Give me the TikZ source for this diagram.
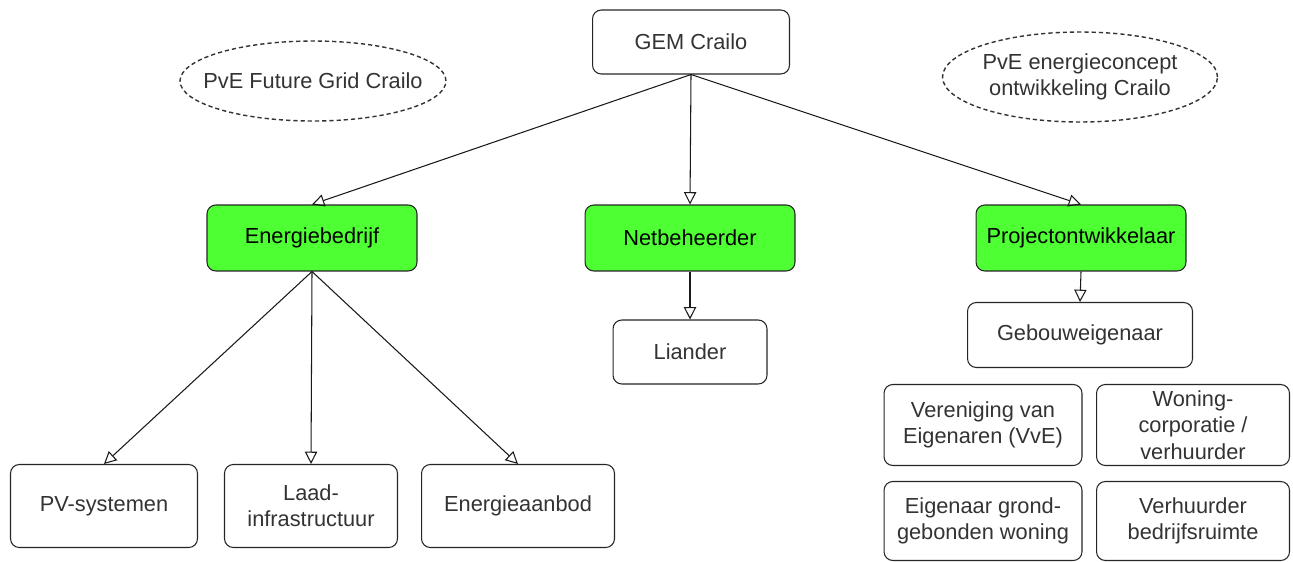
\documentclass[tikz,border=0pt]{standalone}
\usepackage{fontspec}
\setmainfont{Liberation Sans}
\usepackage{tikz}
\usetikzlibrary{arrows.meta,shapes.geometric,positioning}

\definecolor{boxgreen}{RGB}{77,255,51}
\definecolor{textgray}{RGB}{51,51,51}

\begin{document}
\begin{tikzpicture}[
        x=0.02cm, y=-0.02cm,
        every node/.style={font=\fontsize{12.4}{15}\selectfont, text=textgray, align=center},
        box/.style={draw=black!85, line width=0.6pt, rounded corners=5pt, fill=white, inner sep=2pt},
        role/.style={box, fill=boxgreen, text=black},
        note/.style={draw=black!80, line width=0.8pt, dash pattern=on 2.4pt off 1.7pt},
        link/.style={line width=0.6pt, draw=black!90, -{Triangle[open, length=7pt, width=7pt]}}
    ]
    \useasboundingbox (0,0) rectangle (1293,561);

    % top
    \node[box, minimum width=3.94cm, minimum height=1.28cm] (gem) at (691,42) {GEM Crailo};
    \node (grid) at (313,81) {PvE Future Grid Crailo};
    \draw[note] (grid.center) ellipse [x radius=2.66cm, y radius=0.8cm];
    \node (concept) at (1080,77) {PvE energieconcept\\ontwikkeling Crailo};
    \draw[note] (concept.center) ellipse [x radius=2.75cm, y radius=0.9cm];

    % roles
    \node[role, minimum width=4.2cm, minimum height=1.32cm] (energie) at (312,238) {Energiebedrijf};
    \node[role, minimum width=4.2cm, minimum height=1.32cm] (net) at (690,238) {Netbeheerder};
    \node[role, minimum width=4.2cm, minimum height=1.32cm] (project) at (1081,238) {Projectontwikkelaar};

    % level below
    \node[box, minimum width=3.74cm, minimum height=1.66cm] (pv) at (104,506) {PV-systemen};
    \node[box, minimum width=3.46cm, minimum height=1.66cm] (laad) at (311,506) {Laad-\\infrastructuur};
    \node[box, minimum width=3.86cm, minimum height=1.66cm] (aanbod) at (518,506) {Energieaanbod};
    \node[box, minimum width=3.08cm, minimum height=1.28cm] (liander) at (690,352) {Liander};
    \node[box, minimum width=4.5cm, minimum height=1.3cm] (gebouw) at (1080,335) {Gebouweigenaar};
    \node[box, minimum width=3.96cm, minimum height=1.62cm] (vve) at (983,425) {Vereniging van\\Eigenaren (VvE)};
    \node[box, minimum width=3.86cm, minimum height=1.62cm] (woning) at (1193,425) {Woning-\\corporatie /\\verhuurder};
    \node[box, minimum width=3.96cm, minimum height=1.58cm] (eigenaar) at (983,521) {Eigenaar grond-\\gebonden woning};
    \node[box, minimum width=3.86cm, minimum height=1.58cm] (verhuur) at (1193,521) {Verhuurder\\bedrijfsruimte};

    % arrows
    \draw[link] (gem.south) -- (energie.north);
    \draw[link] (gem.south) -- (net.north);
    \draw[link] (gem.south) -- (project.north);
    \draw[link] (energie.south) -- (pv.north);
    \draw[link] (energie.south) -- (laad.north);
    \draw[link] (energie.south) -- (aanbod.north);
    \draw[link] (net.south) -- (liander.north);
    \draw[link] (project.south) -- (gebouw.north);
\end{tikzpicture}
\end{document}
